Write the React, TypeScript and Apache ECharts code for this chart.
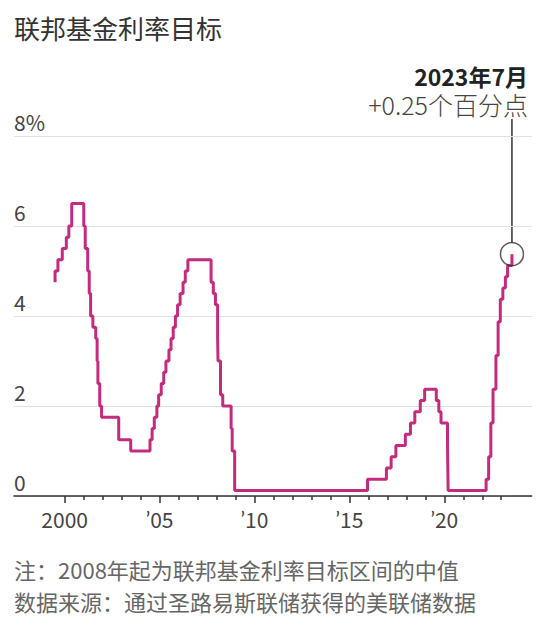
import React, { useEffect, useRef } from 'react';
import * as echarts from 'echarts';

// Fed funds target (midpoint of range from Dec 2008), change dates
const changeDates = [
  '1999-06-30', '1999-06-30', '1999-08-24', '1999-11-16', '2000-02-02', '2000-03-21', '2000-05-16',
  '2001-01-03', '2001-01-31', '2001-03-20', '2001-04-18', '2001-05-15', '2001-06-27', '2001-08-21',
  '2001-09-17', '2001-10-02', '2001-11-06', '2001-12-11', '2002-11-06', '2003-06-25', '2004-06-30',
  '2004-08-10', '2004-09-21', '2004-11-10', '2004-12-14', '2005-02-02', '2005-03-22', '2005-05-03',
  '2005-06-30', '2005-08-09', '2005-09-20', '2005-11-01', '2005-12-13', '2006-01-31', '2006-03-28',
  '2006-05-10', '2006-06-29', '2007-09-18', '2007-10-31', '2007-12-11', '2008-01-22', '2008-01-30',
  '2008-03-18', '2008-04-30', '2008-10-08', '2008-10-29', '2008-12-16', '2015-12-16', '2016-12-14',
  '2017-03-15', '2017-06-14', '2017-12-13', '2018-03-21', '2018-06-13', '2018-09-26', '2018-12-19',
  '2019-07-31', '2019-09-18', '2019-10-30', '2020-03-03', '2020-03-15', '2022-03-16', '2022-05-04',
  '2022-06-15', '2022-07-27', '2022-09-21', '2022-11-02', '2022-12-14', '2023-02-01', '2023-03-22',
  '2023-05-03', '2023-07-26',
];
const targetRates = [
  4.75, 5.0, 5.25, 5.5, 5.75, 6.0, 6.5,
  6.0, 5.5, 5.0, 4.5, 4.0, 3.75, 3.5,
  3.0, 2.5, 2.0, 1.75, 1.25, 1.0, 1.25,
  1.5, 1.75, 2.0, 2.25, 2.5, 2.75, 3.0,
  3.25, 3.5, 3.75, 4.0, 4.25, 4.5, 4.75,
  5.0, 5.25, 4.75, 4.5, 4.25, 3.5, 3.0,
  2.25, 2.0, 1.5, 1.0, 0.125, 0.375, 0.625,
  0.875, 1.125, 1.375, 1.625, 1.875, 2.125, 2.375,
  2.125, 1.875, 1.625, 1.125, 0.125, 0.375, 0.875,
  1.625, 2.375, 3.125, 3.875, 4.375, 4.625, 4.875,
  5.125, 5.375,
];
const majorTickYears = [2000, 2005, 2010, 2015, 2020];
const minorTickYears = [
  2001, 2002, 2003, 2004, 2006, 2007, 2008, 2009, 2011, 2012, 2013, 2014,
  2016, 2017, 2018, 2019, 2021, 2022, 2023,
];
const yTickValues = [0, 2, 4, 6, 8];

const titleText = '联邦基金利率目标';
const annotationDate = '2023年7月';
const annotationChange = '+0.25个百分点';
const noteLines = ['注：2008年起为联邦基金利率目标区间的中值', '数据来源：通过圣路易斯联储获得的美联储数据'];

const FONT = '"Noto Sans CJK SC", "Noto Sans", sans-serif';
const LATIN = 'Lato, "Noto Sans", sans-serif';
const LINE_COLOR = '#c42a7e';

function toDecimalYear(s: string): number {
  const [y, m, d] = s.split('-').map(Number);
  const start = Date.UTC(y, 0, 1);
  const end = Date.UTC(y + 1, 0, 1);
  return y + (Date.UTC(y, m - 1, d) - start) / (end - start);
}

export default function App() {
  const ref = useRef<HTMLDivElement>(null);

  useEffect(() => {
    if (!ref.current) return;
    const chart = echarts.init(ref.current, undefined, { renderer: 'svg' });
    const seriesData = changeDates.map((d, i) => [toDecimalYear(d), targetRates[i]]);
    const last = seriesData[seriesData.length - 1];

    const xMin = 1997.33;
    const xMax = 2024.605;

    chart.setOption({
      animation: false,
      grid: { left: 14, right: 12.3, top: 136, bottom: 129, containLabel: false },
      xAxis: [
        {
          type: 'value',
          min: xMin,
          max: xMax,
          position: 'bottom',
          axisLine: { show: true, lineStyle: { color: '#333', width: 1.5 } },
          axisTick: {
            show: true,
            customValues: majorTickYears,
            length: 7,
            lineStyle: { color: '#333', width: 1.5 },
          },
          axisLabel: {
            customValues: majorTickYears,
            formatter: (v: number) => (v === 2000 ? '2000' : '{q|\u2019}' + String(v).slice(2)),
            color: '#444',
            fontSize: 21,
            fontFamily: FONT,
            margin: 12,
            rich: {
              q: { fontFamily: LATIN, fontSize: 21, color: '#444' },
            },
          },
          splitLine: { show: false },
        },
        {
          type: 'value',
          min: xMin,
          max: xMax,
          position: 'bottom',
          offset: 0,
          axisLine: { show: false },
          axisTick: {
            show: true,
            customValues: minorTickYears,
            length: 4,
            lineStyle: { color: '#333', width: 1.5 },
          },
          axisLabel: { show: false },
          splitLine: { show: false },
        },
      ],
      yAxis: {
        type: 'value',
        min: 0,
        max: 8,
        interval: 2,
        axisLine: { show: false },
        axisTick: { show: false },
        splitLine: { show: true, lineStyle: { color: '#e0e0e0', width: 1 } },
        axisLabel: {
          inside: true,
          margin: 0,
          verticalAlign: 'bottom',
          padding: [0, 0, 4, 0],
          customValues: yTickValues,
          formatter: (v: number) => (v === 8 ? '8%' : String(v)),
          color: '#444',
          fontSize: 21,
          fontFamily: FONT,
        },
      },
      series: [
        {
          type: 'line',
          xAxisIndex: 0,
          step: 'end',
          data: seriesData,
          showSymbol: false,
          symbol: 'none',
          lineStyle: { color: LINE_COLOR, width: 3 },
          z: 2,
        },
        {
          type: 'scatter',
          xAxisIndex: 0,
          data: [last],
          symbol: 'circle',
          symbolSize: 23,
          itemStyle: { color: 'rgba(0,0,0,0)', borderColor: '#333', borderWidth: 1.5 },
          z: 3,
          silent: true,
        },
      ],
      graphic: [
        {
          type: 'text',
          style: { text: titleText, x: 14, y: 27, verticalAlign: 'middle', fontSize: 26, fontFamily: FONT, fill: '#333' },
        },
        {
          type: 'text',
          style: {
            text: '{a|' + annotationDate + '}\n{b|' + annotationChange + '}',
            x: 528,
            y: 62,
            align: 'right',
            verticalAlign: 'top',
            fontFamily: FONT,
            rich: {
              a: { fontSize: 23, lineHeight: 28, fontWeight: 'bold', fontFamily: FONT, fill: '#222', align: 'right' },
              b: { fontSize: 25, lineHeight: 28, fontWeight: 300, fontFamily: FONT, fill: '#444', align: 'right' },
            },
          },
        },
        ...noteLines.map((t, i) => ({
          type: 'text',
          style: { text: t, x: 14, y: 569 + i * 32, verticalAlign: 'middle', fontSize: 22, fontFamily: FONT, fill: '#666' },
        })),
      ],
    });

    const p = chart.convertToPixel({ xAxisIndex: 0, yAxisIndex: 0 }, last) as number[];
    if (p) {
      chart.setOption({
        graphic: [
          {
            id: 'annotLine',
            type: 'line',
            shape: { x1: p[0], y1: 119, x2: p[0], y2: p[1] - 11.5 },
            style: { stroke: '#333', lineWidth: 1.5 },
          },
        ],
      });
    }

    return () => chart.dispose();
  }, []);

  return <div ref={ref} style={{ position: 'absolute', left: 0, top: 0, width: 544, height: 625 }} />;
}
